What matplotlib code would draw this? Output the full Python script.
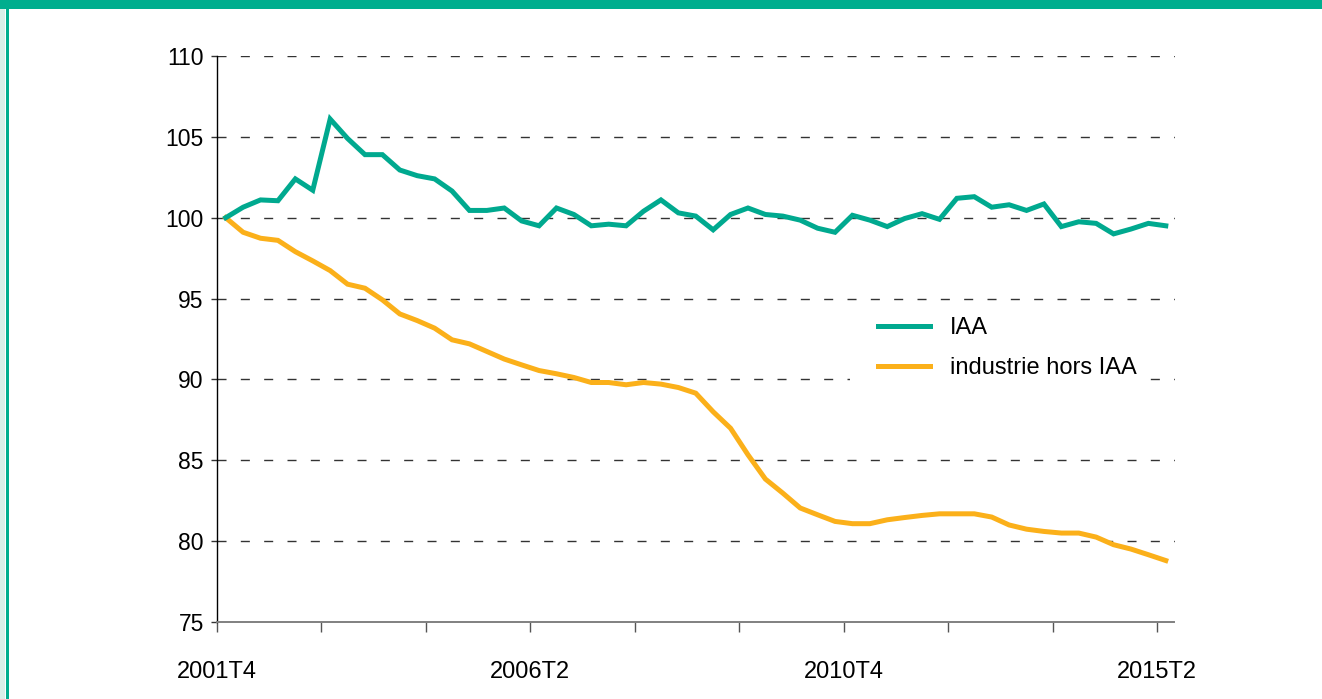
import matplotlib
matplotlib.use("Agg")
from matplotlib import pyplot as plt
from matplotlib.patches import Rectangle

plt.rcParams['font.family'] = ['Liberation Sans', 'DejaVu Sans']

# quarters 2001T4 .. 2015T2
quarters = []
for year in range(2001, 2016):
    for q in range(1, 5):
        if (year, q) >= (2001, 4) and (year, q) <= (2015, 2):
            quarters.append(f"{year}T{q}")

iaa = [100.0, 100.65, 101.1, 101.05, 102.4, 101.7, 106.1, 104.9, 103.9, 103.9,
       102.95, 102.6, 102.4, 101.65, 100.45, 100.45, 100.6, 99.8, 99.5, 100.6,
       100.2, 99.5, 99.6, 99.5, 100.4, 101.1, 100.3, 100.1, 99.25, 100.2,
       100.6, 100.2, 100.1, 99.85, 99.35, 99.1, 100.15, 99.85, 99.45, 99.95,
       100.25, 99.9, 101.2, 101.3, 100.65, 100.8, 100.45, 100.85, 99.45, 99.75,
       99.65, 99.0, 99.3, 99.65, 99.5]

hors_iaa = [100.0, 99.1, 98.73, 98.6, 97.9, 97.33, 96.73, 95.89, 95.64, 94.92,
            94.05, 93.64, 93.17, 92.45, 92.2, 91.73, 91.26, 90.9, 90.55, 90.35,
            90.12, 89.81, 89.81, 89.67, 89.81, 89.71, 89.5, 89.15, 88.0, 86.98,
            85.34, 83.84, 82.97, 82.05, 81.63, 81.22, 81.08, 81.08, 81.32, 81.46,
            81.59, 81.69, 81.69, 81.69, 81.49, 81.0, 80.74, 80.6, 80.5, 80.5,
            80.25, 79.78, 79.51, 79.16, 78.8]

series_names = ["IAA", "industrie hors IAA"]
colors = ["#00a98f", "#fbb01a"]

W, H = 1322, 699
fig = plt.figure(figsize=(W / 100, H / 100), dpi=100)
fig.patch.set_facecolor("white")

# frame decoration
fig.patches.append(Rectangle((0, 0), 5 / W, 1, transform=fig.transFigure,
                             facecolor="#d9efe8", edgecolor="none"))
fig.patches.append(Rectangle((5.5 / W, 0), 3.5 / W, 1, transform=fig.transFigure,
                             facecolor="#00ae8e", edgecolor="none"))
fig.patches.append(Rectangle((0, 1 - 9 / H), 1, 9 / H, transform=fig.transFigure,
                             facecolor="#00ae8e", edgecolor="none"))

ax = fig.add_axes([217 / W, 1 - 622 / H, (1174.5 - 217) / W, (622 - 56) / H])

x = list(range(len(quarters)))
ax.plot(x, iaa, color=colors[0], lw=3.6, label=series_names[0], zorder=3,
        solid_joinstyle="miter")
ax.plot(x, hors_iaa, color=colors[1], lw=3.6, label=series_names[1], zorder=2,
        solid_joinstyle="miter")

ax.set_xlim(-0.5, len(quarters) - 0.5)
ax.set_ylim(75, 110)
ax.set_yticks(range(75, 111, 5))

ticks = [-0.5 + 6 * k for k in range(10)]
ax.set_xticks(ticks)
labels = []
for k in range(10):
    labels.append(quarters[6 * k] if k % 3 == 0 else "")
ax.set_xticklabels(labels)

for yv in range(80, 111, 5):
    ax.axhline(yv, color="#333333", lw=1.0, dashes=(6.5, 10.3), zorder=1)

for s in ["top", "right"]:
    ax.spines[s].set_visible(False)
ax.spines["left"].set_color("black")
ax.spines["left"].set_linewidth(1.0)
ax.spines["bottom"].set_color("#808080")
ax.spines["bottom"].set_linewidth(1.4)

ax.tick_params(axis="y", direction="out", length=4, width=1, color="#333333",
               labelsize=16.5, pad=5.5)
ax.tick_params(axis="x", direction="out", length=7, width=1, color="#555555",
               labelsize=17, pad=21)

# white area behind the legend (hides the grid line like the original)
fig.patches.append(Rectangle((850 / W, 1 - 383 / H), 295 / W, 75 / H,
                             transform=fig.transFigure, facecolor="white",
                             edgecolor="none", zorder=1.5))
ax.set_zorder(2)
ax.patch.set_visible(False)
bg = Rectangle((850 / W, 1 - 383 / H), 295 / W, 75 / H, transform=fig.transFigure,
               facecolor="white", edgecolor="none", zorder=1.5)
ax.add_artist(bg)

leg = ax.legend(loc="upper left", bbox_to_anchor=(871 / W, 1 - 310 / H),
                bbox_transform=fig.transFigure, fontsize=17, frameon=False,
                handlelength=2.2, handletextpad=0.85, labelspacing=0.76,
                borderpad=0.3, borderaxespad=0)

fig.savefig("out.png", dpi=100)
